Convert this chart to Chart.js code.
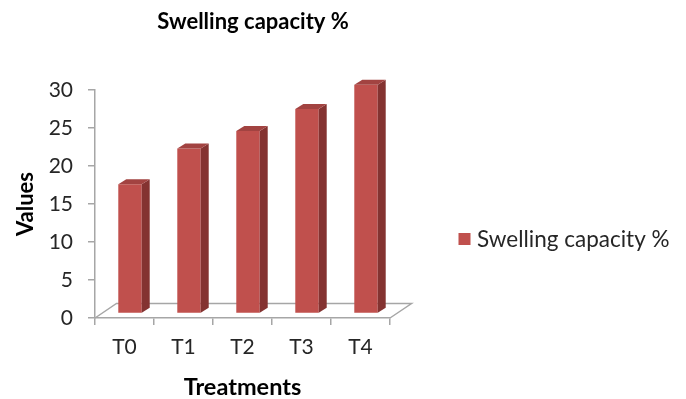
<!DOCTYPE html>
<html>
<head>
<meta charset="utf-8">
<script src="https://cdn.jsdelivr.net/npm/chart.js@4/dist/chart.umd.min.js"></script>
<style>
  html, body { margin: 0; padding: 0; background: #ffffff; }
  #wrap { width: 686px; height: 399px; }
</style>
</head>
<body>
<div id="wrap"><canvas id="c" width="686" height="399"></canvas></div>
<script>
// Treatments and measured swelling capacity (%)
const categories = ['T0', 'T1', 'T2', 'T3', 'T4'];
const swellingValues = [17.0, 21.7, 24.0, 26.9, 30.1];
const seriesName = 'Swelling capacity %';
const chartTitle = 'Swelling capacity %';
const xTitle = 'Treatments';
const yTitle = 'Values';
const yMin = 0, yMax = 30, yStep = 5;

const FONT = 'Lato, "Open Sans", sans-serif';
const FRONT = '#C0504D';
const SIDE = '#843331';
const TOP = '#A24341';
const AXIS_GREY = '#a6a6a6';

// Oblique depth of the column bodies and of the floor
const BAR_SHIFT = { x: 5.5, y: -4.5 };
const BAR_DEPTH = { x: 8, y: -5 };
const FLOOR_DEPTH = { x: 21.5, y: -14.5 };

const pseudo3d = {
  id: 'pseudo3d',
  beforeDatasetsDraw(chart) {
    const { ctx, chartArea: a } = chart;
    // floor plane
    ctx.save();
    ctx.strokeStyle = AXIS_GREY;
    ctx.lineWidth = 1.5;
    ctx.beginPath();
    ctx.moveTo(a.left, a.bottom);
    ctx.lineTo(a.left + FLOOR_DEPTH.x, a.bottom + FLOOR_DEPTH.y);
    ctx.lineTo(a.right + FLOOR_DEPTH.x, a.bottom + FLOOR_DEPTH.y);
    ctx.lineTo(a.right, a.bottom);
    ctx.stroke();
    ctx.restore();
    // columns sit in the middle of the floor depth
    ctx.save();
    ctx.translate(BAR_SHIFT.x, BAR_SHIFT.y);
  },
  afterDatasetsDraw(chart) {
    const { ctx } = chart;
    const meta = chart.getDatasetMeta(0);
    meta.data.forEach(bar => {
      const { x, y, base, width } = bar.getProps(['x', 'y', 'base', 'width'], true);
      const l = x - width / 2, r = x + width / 2;
      // right side face
      ctx.fillStyle = SIDE;
      ctx.beginPath();
      ctx.moveTo(r, base);
      ctx.lineTo(r, y);
      ctx.lineTo(r + BAR_DEPTH.x, y + BAR_DEPTH.y);
      ctx.lineTo(r + BAR_DEPTH.x, base + BAR_DEPTH.y);
      ctx.closePath();
      ctx.fill();
      // top face
      ctx.fillStyle = TOP;
      ctx.beginPath();
      ctx.moveTo(l, y);
      ctx.lineTo(r, y);
      ctx.lineTo(r + BAR_DEPTH.x, y + BAR_DEPTH.y);
      ctx.lineTo(l + BAR_DEPTH.x, y + BAR_DEPTH.y);
      ctx.closePath();
      ctx.fill();
    });
    ctx.restore();
  },
  afterDraw(chart) {
    const { ctx } = chart;
    ctx.save();
    // chart title
    ctx.fillStyle = '#000000';
    ctx.font = 'bold 22px ' + FONT;
    ctx.textAlign = 'center';
    ctx.textBaseline = 'middle';
    ctx.fillText(chartTitle, 253, 22);
    // legend
    ctx.fillStyle = FRONT;
    ctx.fillRect(458.5, 233, 12, 12);
    ctx.fillStyle = '#262626';
    ctx.font = '22.5px ' + FONT;
    ctx.textAlign = 'left';
    ctx.fillText(seriesName, 477, 240);
    ctx.restore();
  }
};

new Chart(document.getElementById('c'), {
  type: 'bar',
  data: {
    labels: categories,
    datasets: [{
      label: seriesName,
      data: swellingValues,
      backgroundColor: FRONT,
      borderWidth: 0,
      barPercentage: 0.397,
      categoryPercentage: 1.0,
      clip: false
    }]
  },
  options: {
    responsive: false,
    animation: false,
    devicePixelRatio: 1,
    layout: { padding: { left: 0, top: 90, right: 296, bottom: 0 } },
    plugins: {
      legend: { display: false },
      title: { display: false },
      tooltip: { enabled: false }
    },
    scales: {
      x: {
        type: 'category',
        afterFit(s) { s.height = 81; },
        grid: { display: true, drawOnChartArea: false, drawTicks: true, tickLength: 7, color: AXIS_GREY, lineWidth: 1.5, offset: true },
        border: { display: true, color: AXIS_GREY, width: 1.5 },
        ticks: { color: '#262626', font: { family: FONT, size: 21 }, padding: 10 },
        title: { display: true, text: xTitle, color: '#000000', font: { family: FONT, size: 23.5, weight: 'bold', lineHeight: 1 }, padding: { top: 0, bottom: 0 } }
      },
      y: {
        min: yMin,
        max: yMax,
        afterFit(s) { s.width = 95; },
        grid: { display: true, drawOnChartArea: false, drawTicks: true, tickLength: 7, color: AXIS_GREY, lineWidth: 1.5 },
        border: { display: true, color: AXIS_GREY, width: 1.5 },
        ticks: { stepSize: yStep, color: '#262626', font: { family: FONT, size: 21 }, padding: 15 },
        title: { display: true, text: yTitle, color: '#000000', font: { family: FONT, size: 22, weight: 'bold' }, padding: { top: 13, bottom: 0 } }
      }
    }
  },
  plugins: [pseudo3d]
});
</script>
</body>
</html>
